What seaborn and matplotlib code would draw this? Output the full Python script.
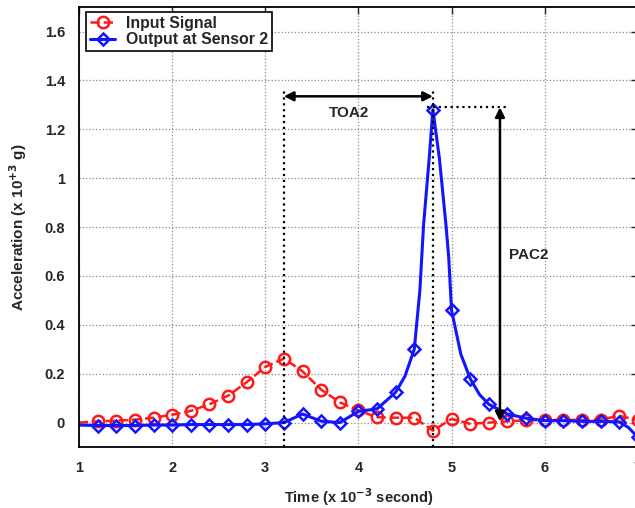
import numpy as np
import pandas as pd
import matplotlib
matplotlib.use("Agg")
import matplotlib.pyplot as plt
import seaborn as sns

# values (time in ms, acceleration in 1e3 g)
t_step = [1.0, 1.2, 1.4, 1.6, 1.8, 2.0, 2.2, 2.4, 2.6, 2.8, 3.0, 3.2, 3.4, 3.6, 3.8,
          4.0, 4.2, 4.4, 4.6, 4.8, 5.0, 5.2, 5.4, 5.6, 5.8, 6.0, 6.2, 6.4, 6.6, 6.8, 7.0]
input_signal = [0.0, 0.005, 0.008, 0.012, 0.02, 0.032, 0.048, 0.075, 0.11, 0.165, 0.228,
                0.262, 0.21, 0.135, 0.083, 0.05, 0.022, 0.02, 0.02, -0.033, 0.015, -0.005,
                0.0, 0.005, 0.01, 0.01, 0.012, 0.01, 0.012, 0.028, 0.01]

# sensor 2 trace, extra points read around the peak so the curve keeps its shape
t_sensor = [1.0, 1.2, 1.4, 1.6, 1.8, 2.0, 2.2, 2.4, 2.6, 2.8, 3.0, 3.2, 3.4, 3.6, 3.8,
            4.0, 4.2, 4.4, 4.5, 4.6, 4.66, 4.7, 4.76, 4.8, 4.87, 4.94, 4.97, 5.0, 5.1,
            5.2, 5.3, 5.4, 5.6, 5.8, 6.0, 6.2, 6.4, 6.6, 6.8, 6.9, 7.0]
sensor2 = [-0.01, -0.012, -0.012, -0.012, -0.01, -0.01, -0.008, -0.008, -0.008, -0.008,
           -0.005, 0.0, 0.035, 0.006, 0.0, 0.046, 0.056, 0.124, 0.19, 0.30, 0.54, 0.81,
           1.08, 1.28, 1.08, 0.81, 0.675, 0.46, 0.28, 0.18, 0.115, 0.075, 0.035, 0.018,
           0.008, 0.008, 0.005, 0.005, 0.003, -0.02, -0.06]

marker_t = [round(1.2 + 0.2 * i, 1) for i in range(30)]

sns.set_style("white")
plt.rcParams['font.family'] = ['Liberation Sans', 'DejaVu Sans']
plt.rcParams['font.weight'] = 'bold'
plt.rcParams['axes.labelweight'] = 'bold'
plt.rcParams['mathtext.default'] = 'bf'

fig = plt.figure(figsize=(6.35, 5.08), dpi=100)
ax = fig.add_axes([0.1244, 0.12, 0.88, 0.866])

df_in = pd.DataFrame({'t': t_step, 'a': input_signal})
df_out = pd.DataFrame({'t': t_sensor, 'a': sensor2})
mk_in = list(np.isin(np.round(df_in['t'], 2), marker_t))
mk_out = list(np.isin(np.round(df_out['t'], 2), marker_t))

sns.lineplot(data=df_in, x='t', y='a', ax=ax, color='#ff1a1a', linestyle='--', lw=1.8,
             marker='o', markersize=8.2, markerfacecolor='none', markeredgewidth=1.8,
             markeredgecolor='#ff1a1a', markevery=mk_in, label='Input Signal',
             sort=False, estimator=None)
sns.lineplot(data=df_out, x='t', y='a', ax=ax, color='#1414ff', lw=2.2,
             marker='D', markersize=6.5, markerfacecolor='none', markeredgewidth=1.8,
             markeredgecolor='#1414ff', markevery=mk_out, label='Output at Sensor 2',
             sort=False, estimator=None)

ax.set_xlim(1, 7)
ax.set_ylim(-0.1, 1.7)
ax.set_xticks([1, 2, 3, 4, 5, 6, 7])
ax.set_yticks([0, 0.2, 0.4, 0.6, 0.8, 1.0, 1.2, 1.4, 1.6])
ax.set_yticklabels(['0', '0.2', '0.4', '0.6', '0.8', '1', '1.2', '1.4', '1.6'])
ax.grid(True, color='#8a8a8a', linestyle=':', lw=0.9)
ax.tick_params(direction='in', length=5, width=1, labelsize=10.5, top=True, right=True,
               pad=10)
for lab in ax.get_xticklabels() + ax.get_yticklabels():
    lab.set_fontweight('bold')
for s in ax.spines.values():
    s.set_color('black')
    s.set_linewidth(1.3)

ax.set_xlabel(r'Time (x 10$^{-3}$ second)', fontsize=10.5, fontweight='bold', labelpad=8)
ax.set_ylabel(r'Acceleration (x 10$^{+3}$ g)', fontsize=11, fontweight='bold', labelpad=11)

# TOA2 / PAC2 annotations
ax.plot([3.2, 3.2], [-0.1, 1.365], color='black', linestyle=':', lw=1.6)
ax.plot([4.8, 4.8], [-0.1, 1.365], color='black', linestyle=':', lw=1.6)
ax.annotate('', xy=(3.2, 1.335), xytext=(4.8, 1.335),
            arrowprops=dict(arrowstyle='<|-|>', color='black', lw=1.8, mutation_scale=14,
                            shrinkA=0, shrinkB=0))
ax.text(3.68, 1.265, 'TOA2', fontsize=11, fontweight='bold', va='center', ha='left')
ax.plot([4.74, 5.61], [1.29, 1.29], color='black', linestyle=':', lw=1.6)
ax.annotate('', xy=(5.52, 1.29), xytext=(5.52, 0.005),
            arrowprops=dict(arrowstyle='<|-|>', color='black', lw=1.8, mutation_scale=14,
                            shrinkA=0, shrinkB=0))
ax.text(5.62, 0.686, 'PAC2', fontsize=11, fontweight='bold', va='center', ha='left')

leg = ax.legend(loc='upper left', bbox_to_anchor=(0.0125, 0.989), fontsize=11.4,
                frameon=True, fancybox=False, edgecolor='black', framealpha=1,
                borderpad=0.25, labelspacing=0.08, handlelength=1.6, handletextpad=0.7,
                borderaxespad=0)
leg.get_frame().set_linewidth(1.2)
for txt in leg.get_texts():
    txt.set_fontweight('bold')

fig.savefig('out.png', dpi=100)
